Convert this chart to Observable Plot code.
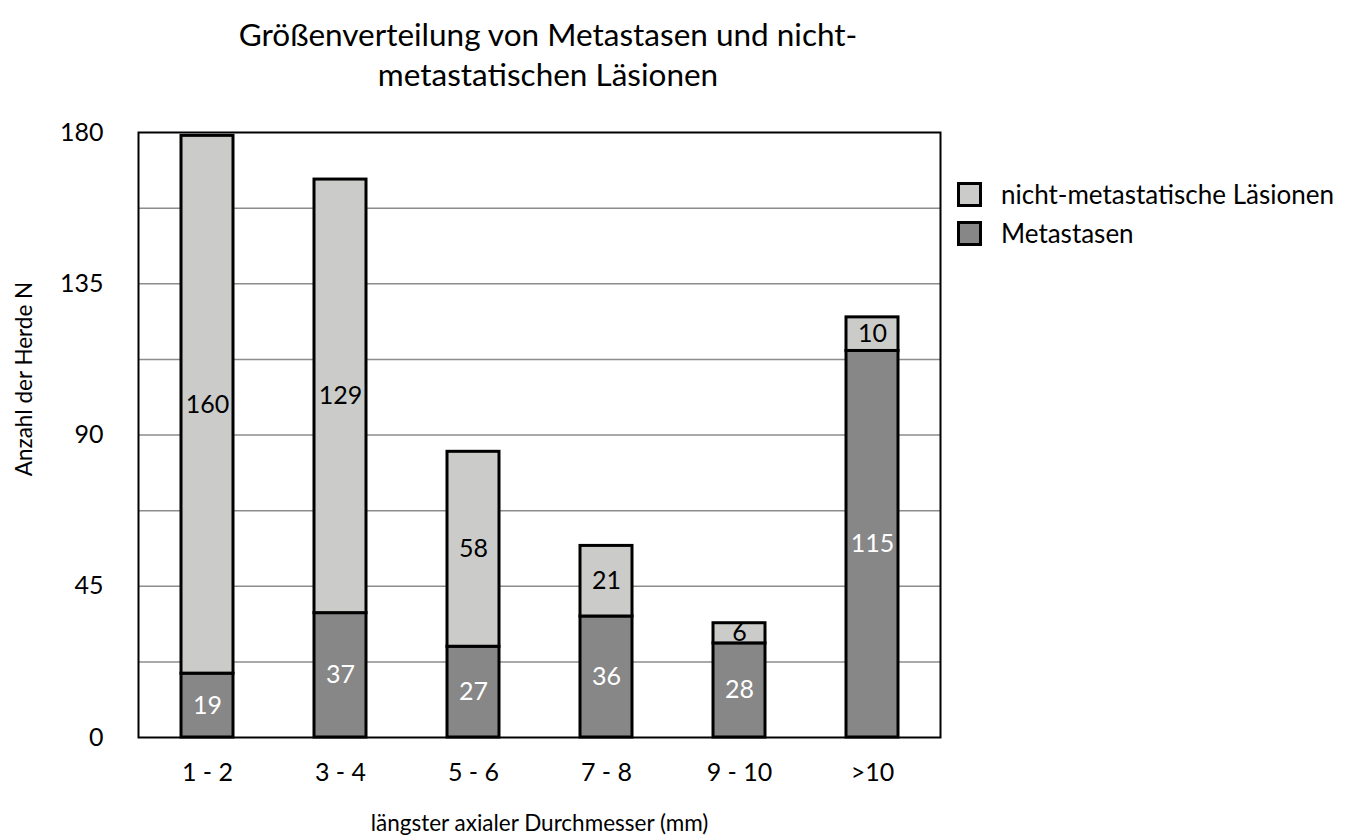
<!DOCTYPE html>
<html>
<head>
<meta charset="utf-8">
<script src="https://cdn.jsdelivr.net/npm/d3@7"></script>
<script src="https://cdn.jsdelivr.net/npm/@observablehq/plot@0.6"></script>
<style>
  body { margin: 0; background: white; font-family: Lato, "Open Sans", sans-serif; color: black; }
  #wrap { position: relative; width: 1361px; height: 838px; }
  #title { position: absolute; left: 0; top: 14px; width: 1096px; text-align: center; font-size: 31.5px; line-height: 40px; }
  #chart { position: absolute; left: 0; top: 110px; }
  .leg { position: absolute; left: 957px; font-size: 26px; display: flex; align-items: center; height: 26px; }
  .sw { width: 19px; height: 19px; border: 3px solid black; margin-right: 19px; }
</style>
</head>
<body>
<div id="wrap">
  <div id="title">Größenverteilung von Metastasen und nicht-<br>metastatischen Läsionen</div>
  <div id="chart"></div>
  <div class="leg" style="top:181px"><div class="sw" style="background:#cbcbc9"></div><span>nicht-metastatische Läsionen</span></div>
  <div class="leg" style="top:220px"><div class="sw" style="background:#878787"></div><span>Metastasen</span></div>
</div>
<script>
const categories = ["1 - 2", "3 - 4", "5 - 6", "7 - 8", "9 - 10", ">10"];
const metastasen = [19, 37, 27, 36, 28, 115];
const nichtMetastatisch = [160, 129, 58, 21, 6, 10];
const seriesNames = ["Metastasen", "nicht-metastatische Läsionen"];
const yTicks = [0, 45, 90, 135, 180];
const gridLines = [22.5, 45, 67.5, 90, 112.5, 135, 157.5];

const rows = [];
categories.forEach((c, i) => {
  rows.push({cat: c, series: seriesNames[0], value: metastasen[i]});
  rows.push({cat: c, series: seriesNames[1], value: nichtMetastatisch[i]});
});

const chart = Plot.plot({
  width: 1361,
  height: 728,
  marginTop: 22,
  marginBottom: 101,
  marginLeft: 138,
  marginRight: 421,
  style: {fontFamily: "Lato, 'Open Sans', sans-serif", fontSize: "25px", color: "black", background: "white", overflow: "visible"},
  x: {domain: categories, paddingInner: 0.61, paddingOuter: 0.31, label: null, tickSize: 0, tickPadding: 26},
  y: {domain: [0, 180], ticks: yTicks, tickSize: 0, tickPadding: 35, label: null},
  color: {domain: seriesNames, range: ["#878787", "#cbcbc9"]},
  marks: [
    Plot.ruleY(gridLines, {stroke: "#8c8c8c", strokeWidth: 1.5}),
    Plot.barY(rows, {x: "cat", y: "value", fill: "series", stroke: "black", strokeWidth: 3}),
    Plot.text(rows, Plot.stackY({x: "cat", y: "value", z: "series",
      text: d => d.series === seriesNames[0] ? String(d.value) : "", fill: "white", fontSize: 25})),
    Plot.text(rows, Plot.stackY({x: "cat", y: "value", z: "series",
      text: d => d.series === seriesNames[1] ? String(d.value) : "", fill: "black", fontSize: 25})),
    Plot.frame({stroke: "black", strokeWidth: 2}),
    Plot.text(["längster axialer Durchmesser (mm)"], {frameAnchor: "bottom", dy: 93, text: d => d, fontSize: 22.5}),
    Plot.text(["Anzahl der Herde N"], {frameAnchor: "left", textAnchor: "middle", dx: -114, dy: -56, rotate: -90, text: d => d, fontSize: 22.5})
  ]
});
document.getElementById("chart").appendChild(chart);
</script>
</body>
</html>
